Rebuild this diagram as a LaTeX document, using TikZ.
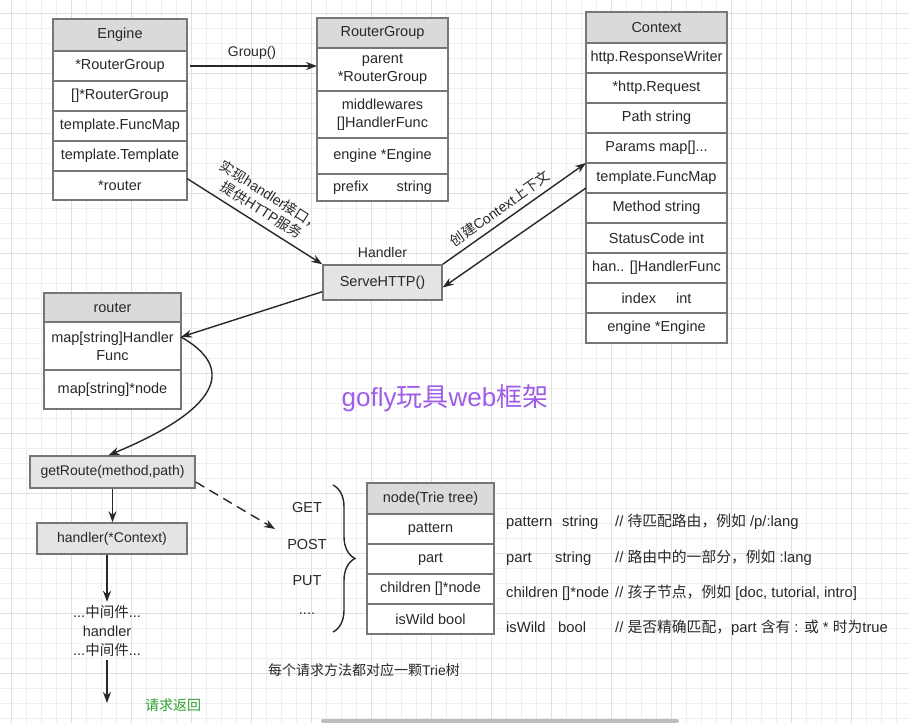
\documentclass[tikz,border=0pt]{standalone}
\usepackage{fontspec}
\setmainfont{Liberation Sans}
\newfontfamily\cjk{Noto Sans CJK SC}
\usetikzlibrary{positioning,arrows.meta,decorations.pathreplacing}

\definecolor{boxline}{RGB}{118,118,118}
\definecolor{headfill}{RGB}{218,218,218}
\definecolor{fnfill}{RGB}{228,228,228}
\definecolor{ink}{RGB}{40,40,40}
\definecolor{gridminor}{RGB}{238,238,238}
\definecolor{gridmajor}{RGB}{224,224,224}
\definecolor{titlepurple}{RGB}{158,92,232}
\definecolor{okgreen}{RGB}{46,160,46}
\definecolor{scrollgray}{RGB}{190,190,190}

\begin{document}
\begin{tikzpicture}[x=1pt, y=-1pt,
        every node/.style={text=ink, font=\fontsize{14.5}{18}\selectfont},
        head/.style={rectangle, draw=boxline, fill=headfill, line width=1.4pt, inner xsep=1pt, inner ysep=0pt, outer sep=0pt, align=center},
        cell/.style={rectangle, draw=boxline, fill=white, line width=1.4pt, inner xsep=1pt, inner ysep=0pt, outer sep=0pt, align=center},
        fn/.style={rectangle, draw=boxline, fill=fnfill, line width=1.4pt, align=center},
        arrow/.style={-{Stealth[length=11pt, width=8pt]}, line width=1.4pt, draw=ink},
        note/.style={anchor=west, inner sep=0pt, font=\fontsize{14.8}{18}\selectfont},
        small/.style={font=\fontsize{14}{17}\selectfont}
    ]
        \useasboundingbox (0,0) rectangle (909,723);
        \fill[white] (0,0) rectangle (909,723);
        % grid
        \foreach \i in {0,...,60} \draw[gridminor, line width=0.8pt] (11.7+15*\i,0) -- (11.7+15*\i,723);
        \foreach \i in {0,...,48} \draw[gridminor, line width=0.8pt] (0,13+15*\i) -- (909,13+15*\i);
        \foreach \i in {0,...,15} \draw[gridmajor, line width=0.8pt] (11.7+60*\i,0) -- (11.7+60*\i,723);
        \foreach \i in {0,...,12} \draw[gridmajor, line width=0.8pt] (0,13+60*\i) -- (909,13+60*\i);

        % Engine
        \node[head, minimum width=134pt, minimum height=32pt] (engine) at (120,35) {Engine};
        \node[cell, minimum width=134pt, minimum height=30pt, below=0pt of engine] (eng1) {*RouterGroup};
        \node[cell, minimum width=134pt, minimum height=30pt, below=0pt of eng1] (eng2) {[]*RouterGroup};
        \node[cell, minimum width=134pt, minimum height=30pt, below=0pt of eng2] (eng3) {template.FuncMap};
        \node[cell, minimum width=134pt, minimum height=30pt, below=0pt of eng3] (eng4) {template.Template};
        \node[cell, minimum width=134pt, minimum height=29pt, below=0pt of eng4] (eng5) {*router};

        % RouterGroup
        \node[head, minimum width=131pt, minimum height=30pt] (rgroup) at (382.5,33) {RouterGroup};
        \node[cell, minimum width=131pt, minimum height=43pt, below=0pt of rgroup] (rg1) {parent\\*RouterGroup};
        \node[cell, minimum width=131pt, minimum height=47pt, below=0pt of rg1] (rg2) {middlewares\\{}[]HandlerFunc};
        \node[cell, minimum width=131pt, minimum height=36pt, below=0pt of rg2] (rg3) {engine *Engine};
        \node[cell, minimum width=131pt, minimum height=27pt, below=0pt of rg3] (rg4) {prefix\hspace{28pt}string};

        % Context
        \node[head, minimum width=141pt, minimum height=31pt] (ctx) at (656.5,27.5) {Context};
        \node[cell, minimum width=141pt, minimum height=30pt, below=0pt of ctx] (ctx1) {http.ResponseWriter};
        \node[cell, minimum width=141pt, minimum height=30pt, below=0pt of ctx1] (ctx2) {*http.Request};
        \node[cell, minimum width=141pt, minimum height=30pt, below=0pt of ctx2] (ctx3) {Path string};
        \node[cell, minimum width=141pt, minimum height=30pt, below=0pt of ctx3] (ctx4) {Params map[]...};
        \node[cell, minimum width=141pt, minimum height=30pt, below=0pt of ctx4] (ctx5) {template.FuncMap};
        \node[cell, minimum width=141pt, minimum height=30pt, below=0pt of ctx5] (ctx6) {Method string};
        \node[cell, minimum width=141pt, minimum height=30pt, below=0pt of ctx6] (ctx7) {StatusCode int};
        \node[cell, minimum width=141pt, minimum height=30pt, below=0pt of ctx7] (ctx8) {han.. []HandlerFunc};
        \node[cell, minimum width=141pt, minimum height=30pt, below=0pt of ctx8] (ctx9) {index\hspace{20pt}int};
        \node[cell, minimum width=141pt, minimum height=30pt, below=0pt of ctx9] (ctx10) {engine *Engine};

        % ServeHTTP
        \node[fn, minimum width=119pt, minimum height=35pt] (serve) at (382.5,282.5) {ServeHTTP()};
        \node[small, above=3pt of serve] (hdl) {Handler};

        % router
        \node[head, minimum width=137pt, minimum height=29pt] (router) at (112.5,307.5) {router};
        \node[cell, minimum width=137pt, minimum height=48pt, below=0pt of router] (rt1) {map[string]Handler\\Func};
        \node[cell, minimum width=137pt, minimum height=39pt, below=0pt of rt1] (rt2) {map[string]*node};

        % request flow
        \node[fn, small, minimum width=165pt, minimum height=32pt] (getroute) at (112.5,472) {getRoute(method,path)};
        \node[fn, small, minimum width=150pt, minimum height=31pt] (handler) at (112,538.5) {handler(*Context)};
        \node[align=center, font=\fontsize{14.5}{19}\selectfont] (mw) at (107,631) {...{\cjk 中间件}...\\handler\\...{\cjk 中间件}...};
        \coordinate (done) at (107,703);
        \node[small, text=okgreen] (back) at (173,705) {\cjk 请求返回};

        % methods
        \node (get) at (307,507) {GET};
        \node (post) at (307,544) {POST};
        \node (put) at (307,581) {PUT};
        \node (more) at (307,614) {....};
        \coordinate (triein) at (275,529);
        \draw[decorate, decoration={brace, amplitude=22pt}, line width=1.4pt, draw=ink] (333,485) -- (333,632);

        % node(Trie tree)
        \node[head, minimum width=127pt, minimum height=31pt] (trie) at (430.5,498.5) {node(Trie tree)};
        \node[cell, minimum width=127pt, minimum height=30pt, below=0pt of trie] (tr1) {pattern};
        \node[cell, minimum width=127pt, minimum height=30pt, below=0pt of tr1] (tr2) {part};
        \node[cell, minimum width=127pt, minimum height=30pt, below=0pt of tr2] (tr3) {children []*node};
        \node[cell, minimum width=127pt, minimum height=30pt, below=0pt of tr3] (tr4) {isWild bool};

        % field notes
        \node[note] (f1) at (506,522) {\makebox[56pt][l]{pattern}\makebox[53pt][l]{string}// {\cjk 待匹配路由，例如} /p/:lang};
        \node[note] (f2) at (506,558) {\makebox[49pt][l]{part}\makebox[60pt][l]{string}// {\cjk 路由中的一部分，例如} :lang};
        \node[note] (f3) at (506,593) {\makebox[109pt][l]{children []*node}// {\cjk 孩子节点，例如} [doc, tutorial, intro]};
        \node[note] (f4) at (506,628) {\makebox[52pt][l]{isWild}\makebox[57pt][l]{bool}// {\cjk 是否精确匹配，}part {\cjk 含有} : {\cjk 或} * {\cjk 时为}true};
        \node[small] (each) at (364,670) {{\cjk 每个请求方法都对应一颗}Trie{\cjk 树}};

        \node[text=titlepurple, font=\fontsize{26}{30}\selectfont] (title) at (445,398) {gofly{\cjk 玩具}web{\cjk 框架}};

        % connectors
        \draw[arrow, shorten <=3pt] (eng1.east) -- node[small, above=3pt] (grp) {Group()} (eng1.east -| rgroup.west);
        \draw[arrow] ([yshift=7pt]eng5.east) -- node[small, sloped, above=3pt, align=center] (impl) {{\cjk 实现}handler{\cjk 接口，}\\{\cjk 提供}HTTP{\cjk 服务}} (serve.north west);
        \draw[arrow] (serve.north east) -- node[small, sloped, above=2pt, pos=0.45] (mkctx) {{\cjk 创建}Context{\cjk 上下文}} (ctx5.north west);
        \draw[arrow] ([yshift=-10pt]ctx5.west) -- ([yshift=-5pt]serve.east);
        \draw[arrow] ([yshift=9pt]serve.south west) -- ([yshift=9pt]rt1.east);
        \draw[arrow] ([yshift=9pt]rt1.east) .. controls +(50,28) and +(120,-50) .. ([xshift=-4pt]getroute.north);
        \draw[arrow] (getroute.south) -- (getroute.south |- handler.north);
        \draw[arrow, dash pattern=on 10pt off 6pt] ([yshift=-10pt]getroute.east) -- (triein);
        \draw[arrow] (handler.south -| mw.north) -- (mw.north);
        \draw[arrow] (mw.south) -- (done);

        \draw[line width=4pt, line cap=round, draw=scrollgray] (323,721) -- (677,721);
    \end{tikzpicture}
\end{document}
